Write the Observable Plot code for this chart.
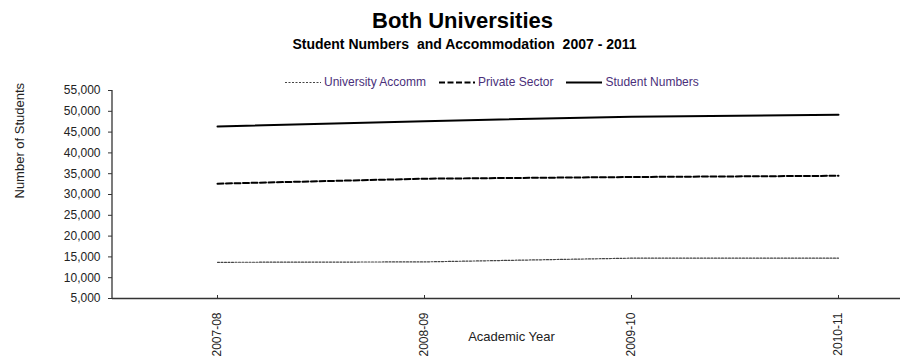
<!DOCTYPE html>
<html>
<head>
<meta charset="utf-8">
<script src="https://cdn.jsdelivr.net/npm/d3@7"></script>
<script src="https://cdn.jsdelivr.net/npm/@observablehq/plot@0.6"></script>
<style>
  body { margin: 0; background: #fff; }
  #wrap { position: relative; width: 901px; height: 358px; overflow: hidden; font-family: "Liberation Sans", Arial, sans-serif; background: #fff; }
  .ttl { position: absolute; white-space: pre; line-height: 1; font-weight: bold; color: #000; text-align: center; }
  #title { top: 10px; left: 12px; width: 901px; font-size: 22px; }
  #subtitle { top: 37px; left: 14px; width: 901px; font-size: 14px; }
  #legend { position: absolute; top: 76px; left: 285px; height: 12px; display: flex; align-items: center; font-size: 12px; line-height: 12px; color: #4a2f7a; white-space: pre; }
  #legend .item { display: flex; align-items: center; margin-right: 13px; }
  #legend svg { display: block; margin-right: 3px; }
  #chart { position: absolute; top: 78px; left: 0; }
</style>
</head>
<body>
<div id="wrap">
  <div id="title" class="ttl"></div>
  <div id="subtitle" class="ttl"></div>
  <div id="legend"></div>
  <div id="chart"></div>
</div>
<script>
const titleText = "Both Universities";
const subtitleText = "Student Numbers  and Accommodation  2007 - 2011";
const xLabel = "Academic Year";
const yLabel = "Number of Students";

const years = ["2007-08", "2008-09", "2009-10", "2010-11"];
const yTicks = [5000, 10000, 15000, 20000, 25000, 30000, 35000, 40000, 45000, 50000, 55000];

const seriesNames = ["University Accomm", "Private Sector", "Student Numbers"];
const universityAccomm = [13700, 13800, 14700, 14700];
const privateSector = [32600, 33800, 34200, 34500];
const studentNumbers = [46350, 47630, 48700, 49160];

const seriesValues = [universityAccomm, privateSector, studentNumbers];
const seriesStyle = [
  {stroke: "#444", strokeWidth: 1.2, dash: "2,1.5"},
  {stroke: "#000", strokeWidth: 2, dash: "6,2.5"},
  {stroke: "#000", strokeWidth: 2, dash: null}
];

document.getElementById("title").textContent = titleText;
document.getElementById("subtitle").textContent = subtitleText;

// legend
const legend = d3.select("#legend");
seriesNames.forEach((name, i) => {
  const st = seriesStyle[i];
  const item = legend.append("div").attr("class", "item");
  const s = item.append("svg").attr("width", 36).attr("height", 12);
  s.append("line").attr("x1", 0).attr("x2", 36).attr("y1", 6.5).attr("y2", 6.5)
    .attr("stroke", st.stroke).attr("stroke-width", st.strokeWidth)
    .attr("stroke-dasharray", st.dash);
  item.append("span").text(name);
});

const rows = [];
seriesNames.forEach((name, i) => {
  years.forEach((yr, j) => rows.push({series: name, year: yr, value: seriesValues[i][j]}));
});

const lineMarks = seriesNames.map((name, i) =>
  Plot.line(rows.filter(d => d.series === name), {
    x: "year", y: "value",
    stroke: seriesStyle[i].stroke,
    strokeWidth: seriesStyle[i].strokeWidth,
    strokeDasharray: seriesStyle[i].dash
  })
);

const leftAxisLine = (index, scales, values, dims) => {
  const l = d3.create("svg:line")
    .attr("x1", dims.marginLeft).attr("x2", dims.marginLeft)
    .attr("y1", dims.marginTop).attr("y2", dims.height - dims.marginBottom)
    .attr("stroke", "#333").attr("stroke-width", 1.3);
  return l.node();
};

const chart = Plot.plot({
  width: 901,
  height: 280,
  marginTop: 12,
  marginBottom: 60,
  marginLeft: 112,
  marginRight: 1,
  style: {fontFamily: "'Liberation Sans', Arial, sans-serif", fontSize: "12px", color: "#222", background: "transparent", overflow: "visible"},
  x: {type: "point", domain: years, range: [216, 838], padding: 0},
  y: {domain: [5000, 55000]},
  marks: [
    Plot.axisY({ticks: yTicks, tickFormat: d3.format(","), tickSize: 4, tickPadding: 8, label: null, stroke: "#333"}),
    Plot.axisX({tickRotate: -90, tickSize: 0, tickPadding: 14, label: null}),
    Plot.ruleY([5000], {stroke: "#333", strokeWidth: 1.3}),
    Plot.ruleX(years, {stroke: "#333", insetTop: 205}),
    leftAxisLine,
    Plot.text([yLabel], {frameAnchor: "left", dx: -93, dy: 4, rotate: -90, fontSize: 13, fill: "#222"}),
    Plot.text([xLabel], {frameAnchor: "bottom", dx: 5, dy: 42, fontSize: 13, fill: "#222"}),
    ...lineMarks
  ]
});
document.getElementById("chart").appendChild(chart);
</script>
</body>
</html>
